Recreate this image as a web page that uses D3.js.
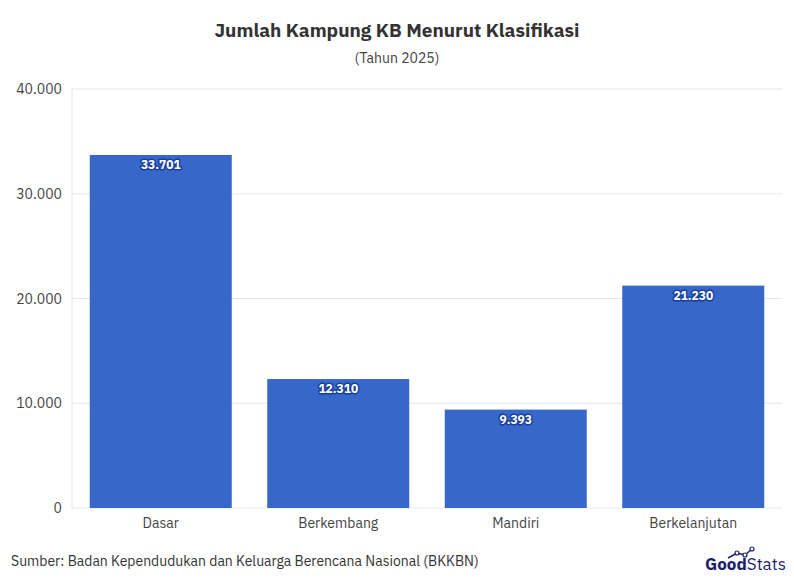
<!DOCTYPE html><html><head><meta charset="utf-8"><script src="https://d3js.org/d3.v7.min.js"></script>
<style>body{margin:0;background:#fff}svg{font-family:"IBM Plex Sans","Inter","Noto Sans",sans-serif}</style></head><body>
<svg id="c" width="794" height="583"></svg>
<script>
const categories=["Dasar","Berkembang","Mandiri","Berkelanjutan"];
const values=[33701,12310,9393,21230];
const valueLabels=["33.701","12.310","9.393","21.230"];
const tickValues=[0,10000,20000,30000,40000];
const tickLabels=["0","10.000","20.000","30.000","40.000"];
const svg=d3.select("#c");
const m={l:72,r:782,t:89,b:508};
const x=d3.scaleBand().domain(categories).range([m.l,m.r]).paddingInner(0.2).paddingOuter(0.1);
const y=d3.scaleLinear().domain([0,40000]).range([m.b,m.t]);
svg.append("text").attr("x",397).attr("y",37).attr("text-anchor","middle").attr("font-size",19).attr("font-weight",700).attr("fill","#333").text("Jumlah Kampung KB Menurut Klasifikasi");
svg.append("text").attr("x",397).attr("y",63).attr("text-anchor","middle").attr("font-size",14).attr("fill","#444").text("(Tahun 2025)");
svg.append("g").selectAll("line").data(tickValues).join("line").attr("x1",m.l).attr("x2",m.r).attr("y1",d=>y(d)).attr("y2",d=>y(d)).attr("stroke","#e6e6e6");
svg.append("line").attr("x1",m.l).attr("x2",m.l).attr("y1",m.t).attr("y2",m.b).attr("stroke","#e6e6e6");
svg.append("g").selectAll("text").data(tickValues).join("text").attr("x",m.l-10).attr("y",d=>y(d)+5).attr("text-anchor","end").attr("font-size",14).attr("fill","#444").text((d,i)=>tickLabels[i]);
svg.append("g").selectAll("rect").data(values).join("rect").attr("x",(d,i)=>x(categories[i])).attr("width",x.bandwidth()).attr("y",d=>y(d)).attr("height",d=>y(0)-y(d)).attr("fill","#3767c9");
svg.append("g").selectAll("text").data(values).join("text").attr("x",(d,i)=>x(categories[i])+x.bandwidth()/2).attr("y",d=>y(d)+14).attr("text-anchor","middle").attr("font-size",12).attr("font-weight",700).attr("fill","#fff").attr("stroke","#1a3f9a").attr("stroke-width",3).attr("paint-order","stroke").attr("stroke-linejoin","round").text((d,i)=>valueLabels[i]);
svg.append("g").selectAll("text").data(categories).join("text").attr("x",d=>x(d)+x.bandwidth()/2).attr("y",528).attr("text-anchor","middle").attr("font-size",14).attr("fill","#444").text(d=>d);
svg.append("text").attr("x",11).attr("y",566).attr("font-size",14).attr("fill","#333").text("Sumber: Badan Kependudukan dan Keluarga Berencana Nasional (BKKBN)");
const lg=svg.append("g");
const t=lg.append("text").attr("x",705).attr("y",570).attr("font-size",17).attr("fill","#1b1f6e");
t.append("tspan").attr("font-weight",800).text("Good");
t.append("tspan").attr("font-weight",400).text("Stats");
lg.append("polyline").attr("points","728,558 737,553 745,555 752,549").attr("fill","none").attr("stroke","#1b1f6e").attr("stroke-width",1.5);
lg.selectAll("circle").data([[737,553],[745,555],[752,549]]).join("circle").attr("cx",d=>d[0]).attr("cy",d=>d[1]).attr("r",2).attr("fill","#fff").attr("stroke","#1b1f6e").attr("stroke-width",1.2);
</script></body></html>
